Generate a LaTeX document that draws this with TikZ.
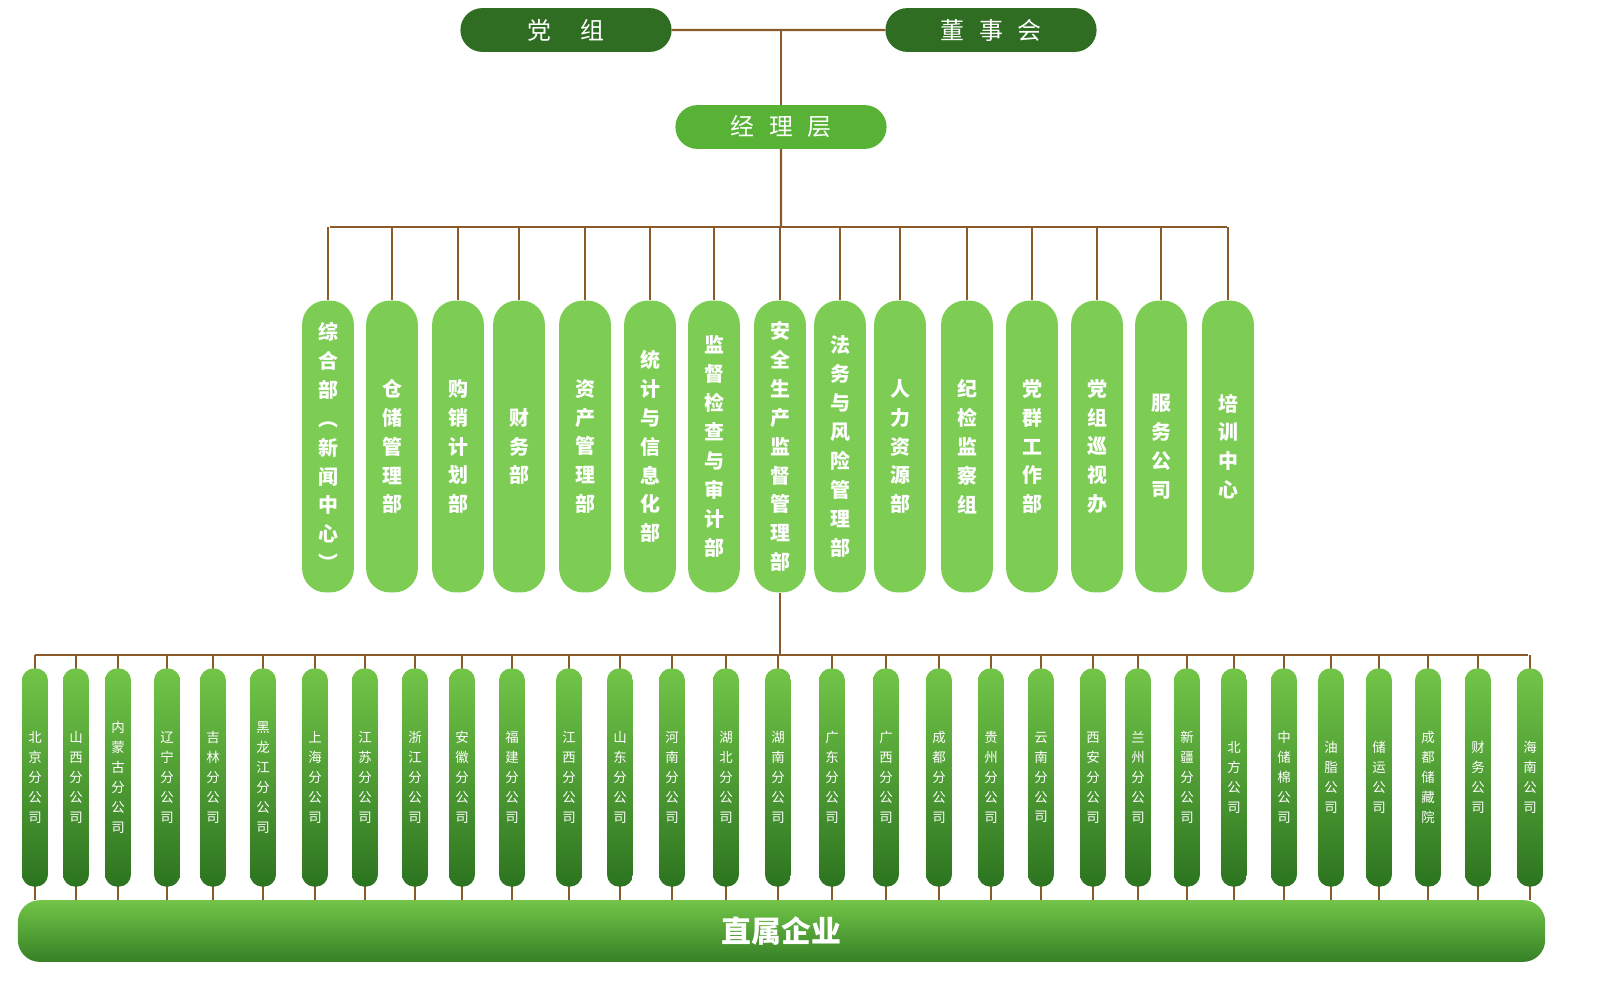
\documentclass[tikz,border=0pt]{standalone}
\usepackage{fontspec}
\setmainfont{Noto Sans CJK SC}
\newfontfamily\cjk{Noto Sans CJK SC}
\usetikzlibrary{shapes.misc}
\def\vt#1{\vtA#1\relax}
\def\vtA#1#2\relax{#1\ifx\relax#2\relax\else\\\vtA#2\relax\fi}
\def\vtx#1{\expandafter\vt\expandafter{#1}}
\definecolor{dk}{HTML}{2F6E22}
\definecolor{mid}{HTML}{57B236}
\definecolor{lt}{HTML}{7DCD55}
\definecolor{ln}{HTML}{8A5A2B}
\definecolor{gtop}{HTML}{72C548}
\definecolor{gbot}{HTML}{2C7420}
\tikzset{
  top/.style={rounded rectangle, minimum width=212pt, minimum height=44pt, inner sep=0pt, text=white, font=\fontsize{24}{24}\selectfont},
  dept/.style={rounded corners=24pt, fill=lt, minimum width=52pt, minimum height=293pt, inner sep=0pt, text=white, align=center, font=\fontsize{20}{29}\selectfont\bfseries},
  br/.style={rounded corners=12pt, top color=gtop, bottom color=gbot, minimum width=26pt, minimum height=219pt, inner sep=0pt, text=white, align=center, font=\fontsize{13.5}{20}\selectfont},
  con/.style={draw=ln, line width=2.2pt}
}
\begin{document}
\begin{tikzpicture}[x=1bp,y=-1bp]
\useasboundingbox (0,0) rectangle (1600,998);
\node[top, fill=dk] (dz) at (566,30) {党\hspace{1.2em}组};
\node[top, fill=dk] (ds) at (991,30) {董\hspace{0.6em}事\hspace{0.6em}会};
\node[top, fill=mid] (jl) at (781,127) {经\hspace{0.6em}理\hspace{0.6em}层};
\coordinate (m) at (781,30);
\draw[con] (dz) -- (ds);
\draw[con] (m) -- (jl.north);
\coordinate (bus1) at (781,227);
\draw[con] (jl) -- (bus1);
\draw[con] (330,227) coordinate (bl) -- (1227,227) coordinate (brr);
\foreach \x/\t [count=\i] in {328/{综合部︵新闻中心︶},392/仓储管理部,458/购销计划部,519/财务部,585/资产管理部,650/统计与信息化部,714/监督检查与审计部,780/安全生产监督管理部,840/法务与风险管理部,900/人力资源部,967/纪检监察组,1032/党群工作部,1097/党组巡视办,1161/服务公司,1228/培训中心}{
  \coordinate (dt\i) at (\x,227);
  \draw[con] (dt\i) -- (\x,300);
  \node[dept] (d\i) at (\x,446.5) {\vtx{\t}};
}
\coordinate (bus2) at (780,655);
\draw[con] (d8.south) -- (bus2);
\draw[con] (35,655) -- (1528,655);
\node[rounded corners=22pt, top color=gtop, bottom color=gbot!85!gtop, minimum width=1533pt, minimum height=62pt, inner sep=0pt] (zs) at (781.5,931) {};
\node[text=white, font=\fontsize{30}{30}\selectfont\bfseries] at (zs) {直属企业};
\foreach \x/\t [count=\i] in {35/北京分公司,76/山西分公司,118/内蒙古分公司,167/辽宁分公司,213/吉林分公司,263/黑龙江分公司,315/上海分公司,365/江苏分公司,415/浙江分公司,462/安徽分公司,512/福建分公司,569/江西分公司,620/山东分公司,672/河南分公司,726/湖北分公司,778/湖南分公司,832/广东分公司,886/广西分公司,939/成都分公司,991/贵州分公司,1041/云南分公司,1093/西安分公司,1138/兰州分公司,1187/新疆分公司,1234/北方公司,1284/中储棉公司,1331/油脂公司,1379/储运公司,1428/成都储藏院,1478/财务公司,1530/海南公司}{
  \coordinate (bt\i) at (\x,655);
  \draw[con, line width=1.8pt] (bt\i) -- (\x,900);
  \node[br] (b\i) at (\x,777.5) {\vtx{\t}};
}
\end{tikzpicture}
\end{document}
